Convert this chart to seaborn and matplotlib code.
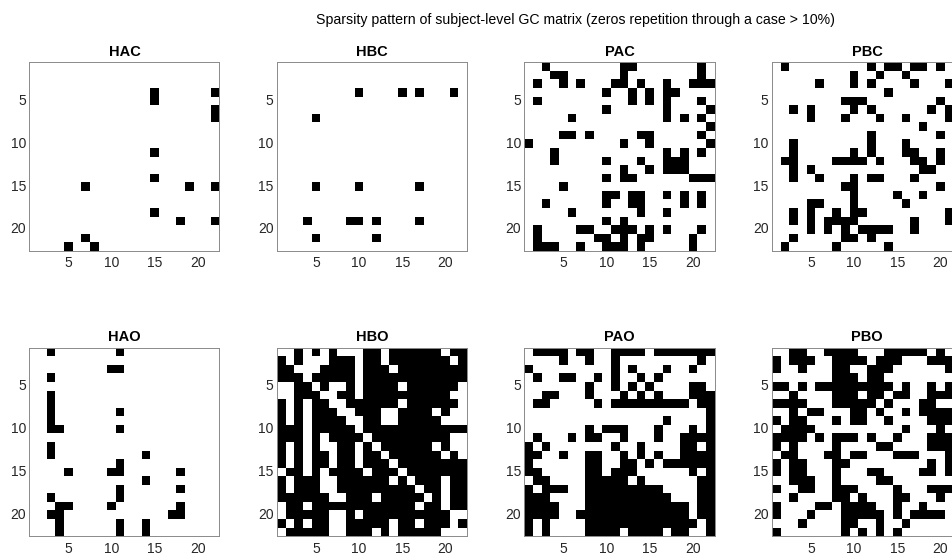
import matplotlib
matplotlib.use("Agg")
import numpy as np
import pandas as pd
import matplotlib.pyplot as plt
import seaborn as sns
from matplotlib.colors import ListedColormap

sns.set_theme(style="white")
plt.rcParams["font.family"] = ["Liberation Sans", "DejaVu Sans"]

N = 22
suptitle = "Sparsity pattern of subject-level GC matrix (zeros repetition through a case > 10%)"
panel_names = ["HAC", "HBC", "PAC", "PBC", "HAO", "HBO", "PAO", "PBO"]
tick_values = [5, 10, 15, 20]

# Sparse panels: non-zero entries as (row, column), 1-based
hac_cells = [(4, 15), (5, 15), (4, 22), (6, 22), (7, 22), (11, 15), (14, 15),
             (15, 7), (15, 19), (15, 22), (18, 15), (19, 18), (19, 22),
             (21, 7), (22, 5), (22, 8)]
hbc_cells = [(4, 10), (4, 15), (4, 17), (4, 21), (7, 5), (15, 5), (15, 10),
             (15, 17), (19, 4), (19, 9), (19, 10), (19, 12), (19, 17),
             (21, 5), (21, 12)]
hao_cells = [(1, 3), (1, 11), (3, 10), (3, 11), (4, 3), (6, 3), (7, 3),
             (8, 3), (8, 11), (9, 3), (10, 3), (10, 4), (10, 11), (12, 3),
             (13, 3), (13, 14), (14, 11), (15, 5), (15, 10), (15, 11),
             (15, 18), (16, 14), (17, 11), (17, 18), (18, 3), (18, 11),
             (19, 4), (19, 5), (19, 10), (19, 18), (20, 3), (20, 4),
             (20, 17), (20, 18), (21, 4), (21, 11), (21, 14), (22, 4),
             (22, 11), (22, 14)]

# Medium panels: non-zero columns per row (rows 1..22)
pac_by_row = [
    [3, 12, 13, 21], [4, 5, 12, 21], [2, 5, 7, 11, 12, 14, 17, 20, 21, 22],
    [10, 13, 15, 17, 18], [2, 13, 15, 17, 21], [10, 17, 22],
    [6, 17, 19, 21], [22], [5, 6, 8, 14, 15, 21], [1, 12, 15, 22],
    [4, 17, 19, 21], [4, 10, 14, 17, 18, 19], [12, 15, 17, 18, 19],
    [10, 12, 13, 20, 21, 22], [5], [10, 11, 13, 14, 17, 19, 21],
    [3, 10, 13, 14, 19, 21], [6, 14, 17], [10, 12],
    [2, 7, 8, 11, 12, 13, 15, 17, 21], [2, 9, 10, 12, 14, 15, 20],
    [2, 3, 4, 7, 10, 11, 12, 14, 20],
]
pbc_by_row = [
    [2, 12, 14, 15, 17, 18, 20], [10, 13, 16], [6, 10, 12, 17, 21], [14],
    [9, 10, 11, 20], [3, 5, 10, 12, 19, 21], [5, 9, 13, 16, 21], [18],
    [12, 20], [3, 12, 16], [3, 10, 12, 16, 17, 20],
    [2, 3, 8, 9, 10, 11, 13, 17, 18, 20], [3, 5, 18, 19],
    [3, 6, 10, 12, 13, 17], [9, 10, 20], [10, 15, 18], [5, 6, 10, 16],
    [3, 5, 8, 10, 11, 21], [3, 5, 7, 8, 9, 10, 17, 21],
    [5, 7, 9, 11, 12, 13, 14, 17], [3, 9, 10, 12], [2, 8, 14],
]

# Dense panels: one string per row, '#' = non-zero
hbo_rows = [
    "..#.#.#...##.######.##",
    "#.#...###.##.#######.#",
    "##...####.###.########",
    "###.#####.############",
    "..##.#..#.####.######.",
    "..###..##.##########..",
    "#.#.##..######.######.",
    "#.#.###..###..####.#..",
    "#.#.####..##..#####...",
    "###.#####.############",
    "###.#.####.#########..",
    "#.#.#..##.#.######.#..",
    "#.#.##.##.##.######.#.",
    "#.#.##.##.###.########",
    ".##.#.####.###.#######",
    "#.###..######.#.###.##",
    "#.###..#########.##.##",
    "######..###.#####.#.##",
    ".##.############.##.##",
    ".#####..#.##########..",
    "#.#.##..#####.##.###.#",
    ".#####..###.#.#####...",
]
pao_rows = [
    ".####.##..####.#######",
    "....#..#..#.........#.",
    "#.........#.#...#..#..",
    ".#..##..#.#..#.#......",
    ".......#..#.#.#....##.",
    "..##...#...#.#.#...###",
    ".##.....#.#########.##",
    ".....................#",
    "................#....#",
    ".......#.###...#...#.#",
    ".#...#.##..#...#..####",
    "#.#.......#..#....##.#",
    "##..#..##..#.#.#..####",
    "#......##..##.#.######",
    "##.....##.###......#.#",
    ".##....#####.#......##",
    "#.###..#########....##",
    "###....##########...##",
    "####...############.##",
    "####..#############.##",
    "#.#....#############.#",
    "#.#....####.####.##..#",
]
pbo_rows = [
    "..##..####...#####.#..",
    "#.###..####.###...###.",
    "#..#...##..###......#.",
    ".......###.##.........",
    "##.#.#########.#..#.#.",
    "..#....###.##.##..###.",
    "####...#####.#...##...",
    "..#.##...##.#..#.####.",
    "#.##...#.##..#....###.",
    ".####..........#...#.#",
    "####.#.###.#..#...###.",
    "#.#....#....##....###.",
    ".##...##.##...###...#.",
    "#.##...##.........#.#.",
    "#.##...#...##....##.##",
    "..###..#....##........",
    "#..##..###....#...####",
    "..#....##.#...##...#..",
    "#....##.####..#..#....",
    "#...#...#####.#.####..",
    "...#....##..#..#......",
    "#.......#.#.#.#.......",
]


def from_cells(cells):
    m = np.zeros((N, N), dtype=int)
    for r, c in cells:
        m[r - 1, c - 1] = 1
    return m


def from_row_lists(rows):
    m = np.zeros((N, N), dtype=int)
    for r, cols in enumerate(rows):
        for c in cols:
            m[r, c - 1] = 1
    return m


def from_strings(rows):
    return np.array([[1 if ch == "#" else 0 for ch in row] for row in rows])


matrices = {
    "HAC": from_cells(hac_cells),
    "HBC": from_cells(hbc_cells),
    "PAC": from_row_lists(pac_by_row),
    "PBC": from_row_lists(pbc_by_row),
    "HAO": from_cells(hao_cells),
    "HBO": from_strings(hbo_rows),
    "PAO": from_strings(pao_rows),
    "PBO": from_strings(pbo_rows),
}

W, H = 953, 556
fig = plt.figure(figsize=(W / 100, H / 100), dpi=100)
fig.patch.set_facecolor("white")

col_left = [29.5, 277.0, 524.5, 772.0]
row_top = [62.3, 347.7]
aw, ah = 190.0, 188.5

cmap = ListedColormap(["white", "black"])
labels = [str(v) for v in range(1, N + 1)]

for k, name in enumerate(panel_names):
    i, j = divmod(k, 4)
    l, t = col_left[j], row_top[i]
    ax = fig.add_axes([l / W, 1 - (t + ah) / H, aw / W, ah / H])
    df = pd.DataFrame(matrices[name], index=labels, columns=labels)
    sns.heatmap(df, ax=ax, cmap=cmap, vmin=0, vmax=1, cbar=False,
                linewidths=0, square=False)
    for s in ax.spines.values():
        s.set_visible(True)
        s.set_color("#8a8a8a")
        s.set_linewidth(0.7)
    pos = [v - 0.5 for v in tick_values]
    ax.set_xticks(pos)
    ax.set_xticklabels([str(v) for v in tick_values], rotation=0)
    ax.set_yticks(pos)
    ax.set_yticklabels([str(v) for v in tick_values], rotation=0)
    ax.tick_params(axis="both", which="both", direction="in", length=3.5,
                   width=0.6, color="#8a8a8a", labelsize=10,
                   labelcolor="#262626", top=True, right=True,
                   bottom=True, left=True)
    ax.tick_params(axis="x", pad=4)
    ax.tick_params(axis="y", pad=2.5)
    ax.set_xlabel("")
    ax.set_ylabel("")
    ax.set_title(name, fontsize=10.5, fontweight="bold", color="black", pad=4.5)

fig.text(575 / W, 1 - 20 / H, suptitle, ha="center", va="center",
         fontsize=10.2, color="black")

fig.savefig("out.png", dpi=100, facecolor="white")
